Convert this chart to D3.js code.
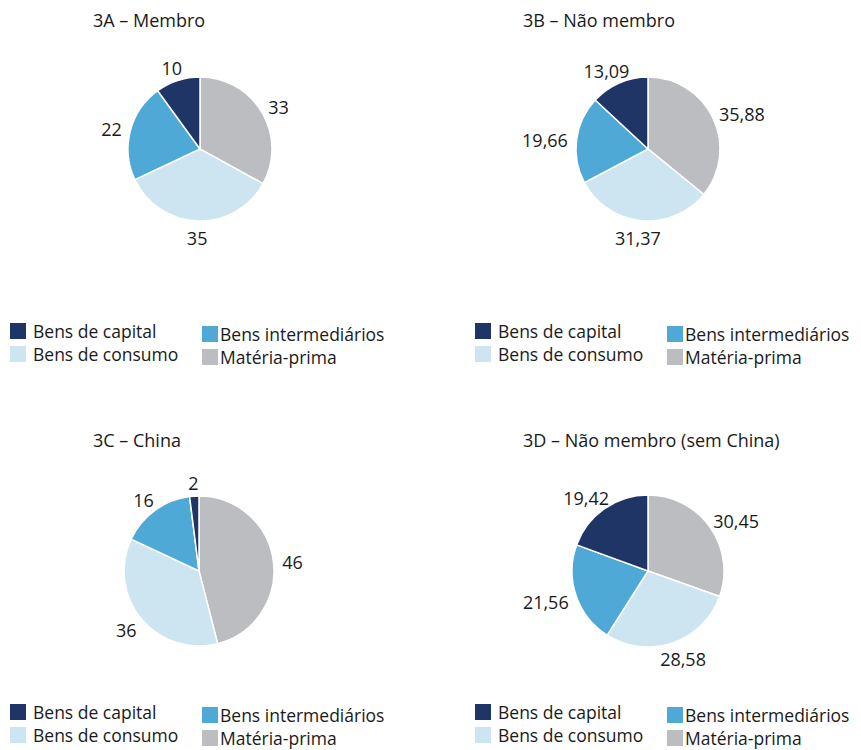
<!DOCTYPE html>
<html>
<head>
<meta charset="utf-8">
<script src="https://cdn.jsdelivr.net/npm/d3@7"></script>
<style>
  html, body { margin: 0; padding: 0; background: #ffffff; }
  svg text { font-family: "Open Sans", "Noto Sans", sans-serif; fill: #1a1a1a; }
</style>
</head>
<body>
<svg id="chart" width="861" height="750"></svg>
<script>
// ---- Data ----
const categories = ["Matéria-prima", "Bens de consumo", "Bens intermediários", "Bens de capital"];
const panelTitles = ["3A – Membro", "3B – Não membro", "3C – China", "3D – Não membro (sem China)"];
const valuesMembro = [33, 35, 22, 10];
const valuesNaoMembro = [35.88, 31.37, 19.66, 13.09];
const valuesChina = [46, 36, 16, 2];
const valuesNaoMembroSemChina = [30.45, 28.58, 21.56, 19.42];

const colors = d3.scaleOrdinal()
  .domain(categories)
  .range(["#bcbdc1", "#cde4f1", "#4fa9d6", "#1f3566"]);

const panels = [
  { title: panelTitles[0], values: valuesMembro, cx: 200, cy: 149, r: 72, tx: 93, ty: 27, lx: 10, ly: 323, col2: 192 },
  { title: panelTitles[1], values: valuesNaoMembro, cx: 648, cy: 149, r: 72, tx: 523, ty: 27, lx: 475, ly: 323, col2: 192 },
  { title: panelTitles[2], values: valuesChina, cx: 199, cy: 571, r: 75, tx: 93, ty: 447, lx: 10, ly: 704, col2: 192 },
  { title: panelTitles[3], values: valuesNaoMembroSemChina, cx: 648, cy: 571, r: 76, tx: 523, ty: 447, lx: 475, ly: 704, col2: 192 }
];

const fmt = v => String(v).replace(".", ",");

const svg = d3.select("#chart");
const pie = d3.pie().sort(null).value(d => d.value);

panels.forEach(p => {
  const g = svg.append("g");
  g.append("text")
    .attr("x", p.tx).attr("y", p.ty)
    .style("font-size", "18px")
    .text(p.title);

  const data = categories.map((c, i) => ({ cat: c, value: p.values[i] }));
  const arcs = pie(data);
  const arc = d3.arc().innerRadius(0).outerRadius(p.r);

  const pg = g.append("g").attr("transform", `translate(${p.cx},${p.cy})`);
  pg.selectAll("path").data(arcs).join("path")
    .attr("d", arc)
    .attr("fill", d => colors(d.data.cat))
    .attr("stroke", "#ffffff")
    .attr("stroke-width", 1.5);

  // outside-end labels
  const gap = 9;
  pg.selectAll("text.lbl").data(arcs).join("text")
    .attr("class", "lbl")
    .style("font-size", "18px")
    .attr("text-anchor", "middle")
    .attr("dominant-baseline", "central")
    .text(d => fmt(d.data.value))
    .each(function(d) {
      const a = (d.startAngle + d.endAngle) / 2;
      const bb = this.getBBox();
      const hw = bb.width / 2, hh = 6;
      const ax = Math.sin(a) * (p.r + gap), ay = -Math.cos(a) * (p.r + gap);
      const x = ax + hw * Math.sin(a);
      const y = ay - hh * Math.cos(a) + 2;
      d3.select(this).attr("x", x).attr("y", y);
    });

  // legend
  const lg = g.append("g").attr("transform", `translate(${p.lx},${p.ly})`);
  const items = [
    { cat: "Bens de capital", x: 0, y: 0 },
    { cat: "Bens de consumo", x: 0, y: 23 },
    { cat: "Bens intermediários", x: p.col2, y: 3 },
    { cat: "Matéria-prima", x: p.col2, y: 26 }
  ];
  items.forEach(it => {
    lg.append("rect")
      .attr("x", it.x).attr("y", it.y)
      .attr("width", 16).attr("height", 16)
      .attr("fill", colors(it.cat));
    lg.append("text")
      .attr("x", it.x + (it.x === 0 ? 23 : 18))
      .attr("y", it.y + 15)
      .style("font-size", "17.5px")
      .text(it.cat);
  });
});
</script>
</body>
</html>
